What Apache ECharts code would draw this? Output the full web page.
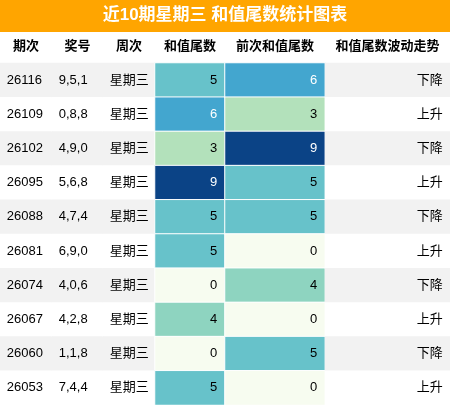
<!DOCTYPE html>
<html><head><meta charset="utf-8">
<script src="https://cdn.jsdelivr.net/npm/echarts@6/dist/echarts.min.js"></script>
<style>html,body{margin:0;padding:0;background:#fff}#c{width:450px;height:405px}</style>
</head><body><div id="c"></div>
<script>
const titleText = '近10期星期三 和值尾数统计图表';
const headers = ['期次','奖号','周次','和值尾数','前次和值尾数','和值尾数波动走势'];
const periods = ['26116','26109','26102','26095','26088','26081','26074','26067','26060','26053'];
const numbers = ['9,5,1','0,8,8','4,9,0','5,6,8','4,7,4','6,9,0','4,0,6','4,2,8','1,1,8','7,4,4'];
const weekdays = ['星期三','星期三','星期三','星期三','星期三','星期三','星期三','星期三','星期三','星期三'];
const sumTail = [5,6,3,9,5,5,0,4,0,5];
const prevTail = [6,3,9,5,5,0,4,0,5,0];
const trend = ['下降','上升','下降','上升','下降','上升','下降','上升','下降','上升'];

const FONT = '"Liberation Sans","Noto Sans CJK SC",sans-serif';
const colLeft = [0,52,103,155,225,325];
const colW = [52,51,52,70,100,125];
const align = ['left','left','left','right','right','right'];
const cols = [periods, numbers, weekdays, sumTail, prevTail, trend];
const rowIdx = periods.map((_,i)=>i);
const palette = ['#f7fcf0','#e0f3db','#ccebc5','#b3e1bb','#8ed4c0','#67c2ca','#43a6cf','#2b8cbe','#0868ac','#0b4386'];

const grids=[], xAxes=[], yAxes=[], series=[];
cols.forEach((col,c)=>{
  grids.push({left:colLeft[c], width:colW[c], top:63, height:342});
  xAxes.push({type:'category', gridIndex:c, data:[headers[c]], position:'top',
    axisLine:{show:false}, axisTick:{show:false},
    axisLabel:{margin:10, fontWeight:'bold', fontSize:13, color:'#000', fontFamily:FONT}});
  yAxes.push({type:'category', gridIndex:c, inverse:true, data:rowIdx, show:false});
  const heat = (c===3||c===4);
  series.push({type:'heatmap', xAxisIndex:c, yAxisIndex:c,
    data: col.map((v,i)=>{
      const item={value:[0,i,heat?v:0]};
      const bg = heat ? palette[v] : (i%2===0?'#f2f2f2':'#ffffff');
      item.itemStyle={color:bg, borderColor:'#fff', borderWidth:heat?1:0};
      item.label={color: heat && v>=6 ? '#fff' : '#000'};
      return item;}),
    label:{show:true, fontSize:13, fontFamily:FONT,
      position: align[c]==='left' ? [7,'50%'] : [colW[c]-7,'50%'],
      align: align[c], verticalAlign:'middle',
      formatter:p=>String(col[p.dataIndex])},
    emphasis:{disabled:true}});
});

const chart = echarts.init(document.getElementById('c'));
chart.setOption({
  animation:false,
  grid:grids, xAxis:xAxes, yAxis:yAxes, series:series,
  graphic:[
    {type:'rect', left:0, top:0, shape:{width:450,height:32}, style:{fill:'#FFA500'}},
    {type:'text', left:'center', top:7, style:{text:titleText, fill:'#fff', fontSize:17, fontWeight:'bold', fontFamily:FONT}}
  ]
});
</script></body></html>
